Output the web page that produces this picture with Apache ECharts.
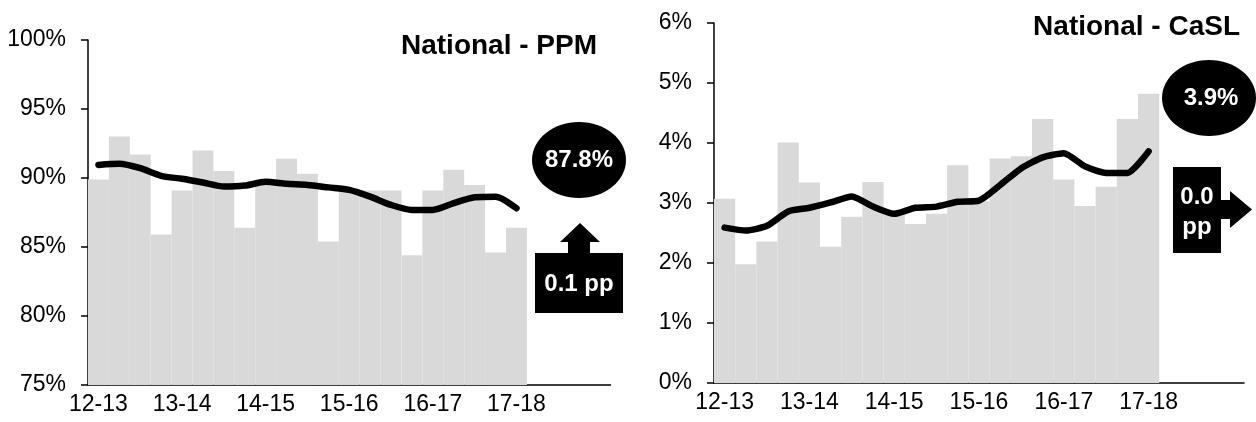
<!DOCTYPE html>
<html><head><meta charset="utf-8">
<script src="https://cdn.jsdelivr.net/npm/echarts@6/dist/echarts.min.js"></script>
<style>html,body{margin:0;padding:0;background:#fff}#c{width:1256px;height:422px}</style>
</head><body><div id="c"></div>
<script>
const quarters = ['12-13 Q1','12-13 Q2','12-13 Q3','12-13 Q4','13-14 Q1','13-14 Q2','13-14 Q3','13-14 Q4',
  '14-15 Q1','14-15 Q2','14-15 Q3','14-15 Q4','15-16 Q1','15-16 Q2','15-16 Q3','15-16 Q4',
  '16-17 Q1','16-17 Q2','16-17 Q3','16-17 Q4','17-18 Q1','17-18 Q2','17-18 Q3','17-18 Q4','18-19 Q1'];
const tickLabels = ['12-13','13-14','14-15','15-16','16-17','17-18'];
const ppmBars = [89.9,93.0,91.7,85.9,89.1,92.0,90.5,86.4,89.7,91.4,90.3,85.4,89.2,89.1,89.1,84.4,89.1,90.6,89.5,84.6,86.4];
const ppmLine = [90.95,91.03,90.71,90.16,89.94,89.67,89.38,89.45,89.72,89.58,89.50,89.32,89.14,88.65,88.05,87.69,87.69,88.18,88.61,88.65,87.81];
const caslBars = [3.07,1.98,2.36,4.01,3.34,2.27,2.77,3.35,2.85,2.65,2.82,3.63,3.03,3.74,3.78,4.40,3.39,2.95,3.27,4.40,4.82];
const caslLine = [2.59,2.54,2.62,2.86,2.92,3.01,3.11,2.94,2.82,2.92,2.94,3.02,3.04,3.30,3.58,3.76,3.83,3.61,3.50,3.50,3.86];
const ppmTitle = 'National - PPM';
const caslTitle = 'National - CaSL';
const ppmChange = '0.1 pp';
const caslChange = '0.0\npp';

const FONT = '"Liberation Sans", Arial, sans-serif';
const chart = echarts.init(document.getElementById('c'), null, {renderer: 'canvas'});

function xAxis(gi) {
  return {
    type: 'category', gridIndex: gi, data: quarters,
    axisLine: {lineStyle: {color: '#000', width: 1.5}},
    axisTick: {show: false},
    axisLabel: {
      interval: (i, v) => v.endsWith('Q1') && tickLabels.includes(v.slice(0, 5)),
      formatter: v => v.slice(0, 5),
      color: '#000', fontSize: 23, fontFamily: FONT, margin: 8
    }
  };
}
function yAxis(gi, min, max, interval) {
  return {
    type: 'value', gridIndex: gi, min, max, interval,
    axisLine: {show: true, lineStyle: {color: '#000', width: 1.5}},
    axisTick: {show: true, inside: false, length: 7, lineStyle: {color: '#000', width: 1.5}},
    splitLine: {show: false},
    axisLabel: {formatter: '{value}%', color: '#000', fontSize: 23, fontFamily: FONT, margin: 22}
  };
}
const white = {fill: '#fff', fontWeight: 'bold', fontSize: 24, fontFamily: FONT, align: 'center', verticalAlign: 'middle'};

chart.setOption({
  animation: false,
  backgroundColor: '#fff',
  title: [
    {text: ppmTitle, right: 659, top: 32, padding: 0,
     textStyle: {fontSize: 28, fontWeight: 'bold', fontFamily: FONT, color: '#000'}},
    {text: caslTitle, right: 16, top: 13, padding: 0,
     textStyle: {fontSize: 28, fontWeight: 'bold', fontFamily: FONT, color: '#000'}}
  ],
  grid: [
    {left: 88, top: 40, width: 522.5, height: 345},
    {left: 714, top: 23, width: 530, height: 360}
  ],
  xAxis: [xAxis(0), xAxis(1)],
  yAxis: [yAxis(0, 75, 100, 5), yAxis(1, 0, 6, 1)],
  series: [
    {type: 'bar', xAxisIndex: 0, yAxisIndex: 0, data: ppmBars, barCategoryGap: '0%',
     itemStyle: {color: '#d9d9d9'}, z: 1},
    {type: 'line', xAxisIndex: 0, yAxisIndex: 0, data: ppmLine, symbol: 'none', smooth: 0.25,
     lineStyle: {color: '#000', width: 6.5, cap: 'round', join: 'round'}, z: 3},
    {type: 'bar', xAxisIndex: 1, yAxisIndex: 1, data: caslBars, barCategoryGap: '0%',
     itemStyle: {color: '#d9d9d9'}, z: 1},
    {type: 'line', xAxisIndex: 1, yAxisIndex: 1, data: caslLine, symbol: 'none', smooth: 0.2,
     lineStyle: {color: '#000', width: 6.5, cap: 'round', join: 'round'}, z: 3}
  ],
  graphic: [
    {type: 'ellipse', shape: {cx: 579, cy: 160, rx: 47, ry: 38}, style: {fill: '#000'}},
    {type: 'text', x: 579, y: 160, style: Object.assign({text: ppmLine[ppmLine.length - 1].toFixed(1) + '%'}, white)},
    {type: 'polygon', shape: {points: [[535,313],[535,253],[568,253],[568,242],[560,242],[580,223],[600,242],[590,242],[590,253],[623,253],[623,313]]},
     style: {fill: '#000'}},
    {type: 'text', x: 579, y: 284, style: Object.assign({text: ppmChange}, white)},
    {type: 'ellipse', shape: {cx: 1209, cy: 98, rx: 47, ry: 38}, style: {fill: '#000'}},
    {type: 'text', x: 1211, y: 98, style: Object.assign({text: caslLine[caslLine.length - 1].toFixed(1) + '%'}, white)},
    {type: 'polygon', shape: {points: [[1173,167],[1221,167],[1221,200],[1230,200],[1230,191],[1252,209.5],[1230,228],[1230,219],[1221,219],[1221,253],[1173,253]]},
     style: {fill: '#000'}},
    {type: 'text', x: 1197, y: 212, style: Object.assign({text: caslChange, lineHeight: 30}, white)}
  ]
});
</script></body></html>
